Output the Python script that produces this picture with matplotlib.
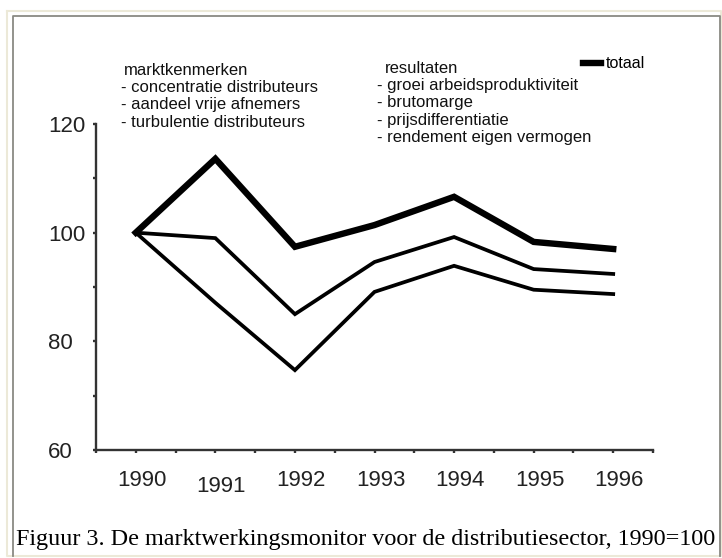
import matplotlib.pyplot as plt
from matplotlib.lines import Line2D
from matplotlib.transforms import ScaledTranslation

# data (index, 1990 = 100)
years = [1990, 1991, 1992, 1993, 1994, 1995, 1996]
totaal = [100, 113.6, 97.4, 101.4, 106.6, 98.3, 97.0]
resultaten = [100, 99.0, 85.0, 94.6, 99.2, 93.3, 92.4]
marktkenmerken = [100, 87.1, 74.7, 89.1, 93.9, 89.5, 88.7]

left_lines = ["marktkenmerken", "- concentratie distributeurs",
              "- aandeel vrije afnemers", "- turbulentie distributeurs"]
right_lines = ["resultaten", "- groei arbeidsproduktiviteit", "- brutomarge",
               "- prijsdifferentiatie", "- rendement eigen vermogen"]
caption = "Figuur 3. De marktwerkingsmonitor voor de distributiesector, 1990=100"

W, H = 722, 558
fig = plt.figure(figsize=(W / 100, H / 100), dpi=100)
fig.patch.set_facecolor("white")


def fx(x):
    return x / W


def fy(y):
    return 1 - y / H


# frame around the figure
beige = "#ece9d8"
grey = "#8a8a84"
fig.add_artist(Line2D([fx(7), fx(721), fx(721), fx(7), fx(7)],
                      [fy(11), fy(11), fy(556), fy(556), fy(11)],
                      color=beige, lw=1.5))
fig.add_artist(Line2D([fx(13), fx(13), fx(720), fx(720)],
                      [fy(556), fy(16), fy(16), fy(556)],
                      color=grey, lw=1.3))

ax = fig.add_axes([fx(96), fy(450), (653 - 96) / W, (450 - 124) / H])
ax.set_facecolor("none")

ax.plot(years, totaal, color="black", lw=4.6, solid_joinstyle="miter", label="totaal")
ax.plot(years, resultaten, color="black", lw=2.7, solid_joinstyle="miter")
ax.plot(years, marktkenmerken, color="black", lw=2.7, solid_joinstyle="miter")

ax.set_xlim(1989.5, 1996.5)
ax.set_ylim(60, 120)

for s in ["top", "right"]:
    ax.spines[s].set_visible(False)
for s in ["left", "bottom"]:
    ax.spines[s].set_color("#333333")
    ax.spines[s].set_linewidth(1.7)

ax.set_yticks([60, 80, 100, 120])
ax.set_yticks([70, 90, 110], minor=True)
ax.set_xticks(years)
ax.set_xticks([y + 0.5 for y in [1989] + years], minor=True)
ax.tick_params(which="both", direction="out", length=2.5, width=1.7, color="#333333")
ax.tick_params(axis="y", labelsize=16, pad=32, labelcolor="#222222")
ax.tick_params(axis="x", labelsize=16, pad=12, labelcolor="#222222")
for lab in ax.get_yticklabels():
    lab.set_horizontalalignment("left")
for i, lab in enumerate(ax.get_xticklabels()):
    dy = -4 / 72 if years[i] == 1991 else 0
    lab.set_transform(lab.get_transform() + ScaledTranslation(0.06, dy, fig.dpi_scale_trans))
for lab in ax.get_xticklabels() + ax.get_yticklabels():
    lab.set_family("Liberation Sans")

# text blocks
fs = 12
for i, t in enumerate(left_lines):
    x = 124 if i == 0 else 121
    fig.text(fx(x), fy(75 + 17.2 * i), t, fontsize=fs, family="Liberation Sans",
             va="baseline", ha="left", color="#111111")
for i, t in enumerate(right_lines):
    x = 385 if i == 0 else 377
    fig.text(fx(x), fy(73 + 17.2 * i), t, fontsize=fs, family="Liberation Sans",
             va="baseline", ha="left", color="#111111")

ax.legend(loc="center left", bbox_to_anchor=(fx(583), fy(64)), bbox_transform=fig.transFigure,
          frameon=False, handlelength=1.1, handletextpad=0.3, borderpad=0, borderaxespad=0,
          prop={"family": "Liberation Sans", "size": 11.5})

fig.text(fx(16), fy(545), caption, fontsize=17.4, family="Liberation Serif",
         va="baseline", ha="left", color="black")

fig.savefig("out.png", dpi=100)
